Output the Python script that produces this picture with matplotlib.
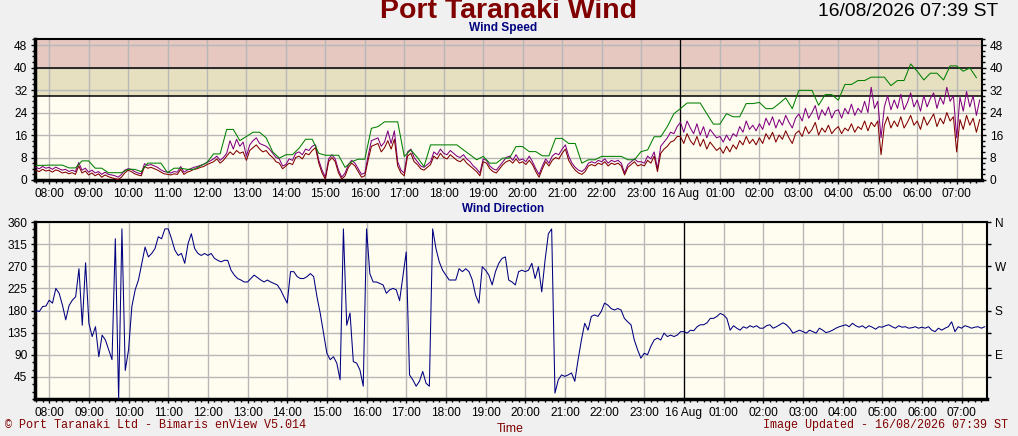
import numpy as np
import matplotlib
matplotlib.use("Agg")
import matplotlib.pyplot as plt
from matplotlib.ticker import MultipleLocator, FuncFormatter

plt.rcParams["font.family"] = ["Liberation Sans", "DejaVu Sans"]

# samples start 07:40 on 15 Aug, speeds/direction every 5 min, max every 10 min
start_hour = 7 + 40 / 60

wind_mean = [
    3.5, 3.0, 3.8, 3.2,
    3.5, 2.8, 3.6, 3.2, 2.5, 2.8, 2.2, 2.6, 2.0, 5.0, 2.5, 3.2,
    1.8, 2.5, 1.5, 2.2, 1.0, 1.8, 1.2, 0.8, 0.5, 0.2, 1.0, 2.5,
    3.5, 3.0, 2.2, 1.8, 1.5, 4.8, 4.2, 4.5, 4.0, 3.5, 2.8, 2.2,
    2.0, 1.8, 2.2, 2.0, 3.8, 2.0, 2.8, 3.2, 3.8, 4.0, 4.5, 4.8,
    5.5, 6.0, 6.5, 7.5, 6.0, 7.0, 8.5, 10.0, 9.0, 10.5, 9.5, 10.0,
    7.0, 10.5, 11.5, 12.5, 11.0, 10.0, 10.5, 9.0, 8.0, 6.5, 6.0, 4.0,
    5.0, 6.0, 5.5, 8.0, 8.5, 7.5, 9.5, 9.0, 10.5, 11.5, 6.0, 2.5,
    0.3, 6.5, 8.0, 6.5, 2.5, 0.3, 1.5, 4.5, 6.0, 5.0, 3.0, 1.0,
    1.5, 7.0, 12.0, 12.5, 13.0, 10.0, 11.5, 14.0, 11.0, 14.5, 5.0, 2.5,
    1.5, 8.5, 9.5, 6.5, 5.5, 4.0, 3.5, 4.5, 5.5, 8.5, 7.5, 9.5,
    8.0, 7.5, 9.0, 8.0, 7.0, 6.5, 7.5, 6.0, 5.0, 4.0, 3.0, 1.5,
    6.5, 6.0, 4.0, 3.0, 2.5, 4.0, 5.5, 6.5, 7.0, 6.0, 7.5, 6.0,
    6.5, 5.5, 7.0, 5.5, 3.0, 1.0, 4.0, 6.5, 5.0, 7.0, 8.0, 7.5,
    9.5, 11.0, 7.0, 5.0, 3.5, 2.5, 2.0, 3.0, 5.0, 5.5, 5.0, 6.0,
    5.5, 6.5, 5.0, 6.0, 5.5, 6.0, 5.0, 1.8, 4.5, 5.5, 6.5, 5.0,
    5.5, 5.0, 7.0, 6.0, 8.5, 3.0, 9.5, 11.0, 12.0, 13.5, 14.0, 15.5,
    15.5, 13.0, 16.5, 14.0, 12.5, 15.5, 12.0, 14.5, 11.0, 13.5, 12.0, 10.5,
    11.5, 9.5, 12.0, 10.0, 12.5, 11.0, 14.0, 12.5, 15.5, 13.0, 14.5, 12.5,
    15.0, 13.0, 16.5, 14.5, 17.0, 13.5, 16.0, 14.5, 17.5, 15.0, 13.0, 16.5,
    17.5, 15.5, 19.0, 16.5, 18.0, 20.5, 16.0, 18.5, 17.0, 19.5, 16.5, 18.0,
    19.0, 16.5, 18.5, 17.5, 20.0, 17.0, 19.0, 18.0, 21.0, 17.5, 20.5, 19.0,
    21.0, 9.0, 19.5, 22.5, 18.5, 21.0, 19.0, 22.5, 18.5, 20.5, 23.0, 19.5,
    21.0, 18.0, 22.5, 19.5, 21.5, 23.5, 19.0, 22.0, 20.0, 24.0, 21.0, 22.5,
    10.0, 21.5, 18.0, 23.0, 19.5, 22.0, 17.0, 21.5,
]

wind_gust = [
    4.5, 4.0, 4.8, 4.2,
    4.5, 3.8, 4.6, 4.0, 3.5, 3.8, 3.0, 3.5, 3.0, 6.2, 3.5, 4.2,
    2.8, 3.5, 2.5, 3.0, 2.0, 2.8, 2.0, 1.8, 1.5, 1.0, 2.0, 3.5,
    4.0, 3.8, 3.0, 2.5, 2.2, 5.8, 5.2, 5.5, 5.0, 4.5, 3.6, 3.0,
    2.8, 2.5, 3.0, 2.8, 4.8, 2.8, 3.5, 4.0, 4.5, 4.8, 5.2, 5.6,
    6.3, 6.8, 7.5, 8.5, 7.0, 8.0, 9.5, 14.0, 11.0, 14.5, 12.0, 13.5,
    8.5, 12.5, 14.0, 15.0, 13.0, 12.5, 12.0, 11.0, 9.5, 8.0, 7.5, 5.0,
    5.5, 7.5, 7.0, 9.5, 10.0, 9.0, 11.0, 10.5, 12.0, 12.5, 7.0, 3.5,
    1.0, 7.5, 9.0, 7.5, 3.5, 1.0, 2.5, 5.5, 7.0, 6.0, 4.0, 2.0,
    2.5, 8.5, 14.0, 14.5, 15.0, 12.0, 13.5, 17.5, 13.0, 17.5, 6.5, 3.5,
    2.5, 10.0, 11.0, 8.0, 6.5, 5.0, 4.5, 5.5, 6.5, 10.0, 9.0, 11.0,
    9.5, 9.0, 10.5, 9.5, 8.5, 8.0, 9.0, 7.5, 6.5, 5.0, 4.0, 2.5,
    7.5, 7.0, 5.0, 4.0, 3.5, 5.0, 6.5, 8.0, 8.5, 7.0, 9.0, 7.0,
    7.5, 6.5, 8.5, 6.5, 4.0, 2.0, 5.0, 7.5, 6.0, 8.5, 9.5, 9.0,
    11.0, 12.5, 8.5, 6.0, 4.5, 3.5, 3.0, 4.0, 6.0, 6.5, 6.0, 7.0,
    6.5, 7.5, 6.0, 7.0, 6.5, 7.0, 6.0, 2.5, 5.5, 6.5, 7.5, 6.5,
    6.5, 6.0, 8.5, 7.5, 10.0, 4.0, 12.0, 13.5, 15.0, 17.0, 16.5, 19.0,
    20.5, 17.0, 21.0, 18.5, 16.5, 20.0, 16.0, 19.0, 15.0, 18.0, 16.5, 15.0,
    15.5, 13.5, 16.0, 14.0, 16.5, 15.5, 19.0, 17.0, 21.0, 18.0, 19.5, 17.5,
    20.0, 18.0, 22.0, 19.5, 22.5, 18.5, 21.5, 19.5, 23.0, 20.5, 18.5, 22.0,
    23.5, 21.0, 25.5, 22.0, 24.0, 26.5, 21.5, 25.0, 23.0, 26.0, 22.0, 24.5,
    25.0, 22.0, 25.5, 23.5, 27.0, 23.0, 25.5, 24.0, 28.0, 24.0, 33.0, 25.5,
    28.0, 15.0, 26.0, 30.0, 25.0, 28.5, 25.5, 30.5, 25.0, 27.5, 31.0, 26.0,
    28.5, 24.5, 30.0, 26.0, 29.0, 31.0, 25.5, 29.5, 27.0, 33.0, 28.0, 30.0,
    15.0, 29.5, 24.5, 31.5, 26.0, 30.0, 23.0, 28.5,
]

wind_max = [
    5.2, 5.2,
    5.3, 5.3, 5.3, 4.3, 4.3, 6.8,
    6.8, 4.2, 4.2, 2.6, 2.6, 2.6,
    3.8, 3.8, 3.0, 6.0, 6.0, 6.0,
    2.6, 4.2, 4.2, 3.8, 3.8, 5.0,
    6.2, 9.3, 9.3, 18.0, 18.0, 14.0,
    15.5, 17.0, 17.0, 15.0, 10.0, 7.8,
    9.0, 9.0, 11.3, 14.5, 14.5, 9.5,
    8.8, 8.8, 8.8, 4.5, 6.5, 7.4,
    7.4, 18.4, 19.0, 20.7, 20.7, 20.7,
    8.4, 10.7, 8.0, 4.8, 12.5, 12.5,
    12.5, 12.5, 12.5, 10.7, 9.0, 7.2,
    8.4, 6.0, 6.0, 7.8, 7.8, 11.9,
    11.9, 10.1, 10.1, 8.6, 8.6, 14.8,
    14.8, 13.0, 13.0, 6.0, 7.2, 7.2,
    8.4, 8.4, 8.4, 8.4, 7.2, 7.2,
    10.1, 10.7, 15.4, 15.4, 19.0, 23.6,
    25.4, 27.4, 27.4, 27.4, 23.6, 19.9,
    19.9, 23.6, 22.5, 22.5, 27.2, 27.2,
    27.6, 25.4, 25.4, 27.2, 29.2, 25.4,
    31.9, 31.9, 31.9, 26.6, 30.4, 30.4,
    28.4, 34.0, 34.0, 35.4, 35.4, 36.6,
    36.6, 36.6, 33.6, 35.4, 35.4, 41.3,
    38.7, 35.6, 38.0, 38.0, 35.6, 40.6,
    40.6, 38.7, 39.9, 36.4,
]

wind_dir = [
    180, 178, 188, 189,
    201, 195, 225, 215, 191, 161, 190, 201, 208, 265, 150, 277,
    154, 127, 147, 86, 130, 120, 100, 80, 326, 0, 346, 58,
    100, 188, 222, 242, 276, 309, 289, 296, 306, 330, 326, 346,
    346, 326, 303, 292, 296, 276, 316, 336, 306, 296, 292, 296,
    292, 296, 286, 282, 279, 282, 282, 262, 252, 245, 242, 238,
    238, 245, 252, 247, 242, 238, 242, 238, 235, 232, 222, 208,
    195, 259, 259, 249, 245, 245, 249, 255, 249, 208, 174, 134,
    93, 80, 86, 73, 39, 346, 150, 175, 76, 73, 59, 26,
    346, 255, 238, 238, 235, 232, 215, 222, 225, 222, 200, 250,
    299, 49, 39, 26, 36, 56, 32, 26, 346, 306, 279, 262,
    252, 242, 242, 242, 265, 259, 265, 259, 242, 211, 195, 269,
    262, 252, 232, 259, 276, 286, 289, 242, 238, 232, 259, 262,
    259, 262, 276, 245, 269, 218, 282, 336, 346, 12, 39, 49,
    46, 49, 53, 36, 80, 120, 154, 140, 168, 171, 168, 178,
    195, 191, 184, 181, 184, 181, 164, 157, 151, 120, 100, 83,
    93, 90, 107, 120, 124, 120, 134, 127, 130, 127, 130, 137,
    137, 134, 140, 139, 147, 151, 151, 155, 164, 164, 168, 174,
    171, 164, 140, 149, 144, 140, 147, 144, 149, 146, 149, 144,
    144, 149, 151, 144, 147, 151, 155, 151, 144, 134, 137, 140,
    137, 134, 140, 137, 134, 144, 140, 135, 137, 140, 144, 147,
    149, 151, 147, 154, 149, 146, 149, 144, 149, 146, 142, 147,
    146, 149, 151, 147, 144, 149, 146, 147, 144, 145, 147, 144,
    146, 144, 147, 140, 137, 144, 140, 144, 147, 157, 137, 147,
    144, 149, 147, 144, 146, 147, 144, 147,
]

speed_ticks = [0, 8, 16, 24, 32, 40, 48]
dir_ticks = [45, 90, 135, 180, 225, 270, 315, 360]
compass_labels = ["", "E", "", "S", "", "W", "", "N"]

t5 = start_hour + np.arange(len(wind_mean)) * 5 / 60
t10 = start_hour + np.arange(len(wind_max)) * 10 / 60
x_start = 7 + 38.5 / 60
x_end = x_start + 24


def hour_label(x, pos):
    h = int(round(x))
    if h == 24:
        return "16 Aug"
    return f"{h % 24:02d}:00"


def style_axis(ax):
    ax.set_facecolor("#FFFCF0")
    ax.set_xlim(x_start, x_end)
    ax.xaxis.set_major_locator(MultipleLocator(1))
    ax.xaxis.set_minor_locator(MultipleLocator(1 / 6))
    ax.xaxis.set_major_formatter(FuncFormatter(hour_label))
    ax.grid(True, which="major", color="#B8B8B8", lw=1.0)
    ax.set_axisbelow(True)
    ax.tick_params(which="both", direction="out", length=3, width=1,
                   labelsize=8.6, pad=2.5)
    ax.tick_params(which="minor", length=2)
    ax.spines["left"].set_linewidth(2.5)
    ax.spines["bottom"].set_linewidth(2.5)
    ax.spines["top"].set_linewidth(1.5)
    ax.spines["right"].set_linewidth(1.5)
    ax.axvline(24, color="black", lw=0.9, zorder=2)


fig = plt.figure(figsize=(10.18, 4.36), dpi=100, facecolor="#F0F0F0")
ax1 = fig.add_axes([35 / 1018, 1 - 180 / 436, 947 / 1018, 140.5 / 436])
ax2 = fig.add_axes([35 / 1018, 1 - 399 / 436, 952 / 1018, 177 / 436])

# wind speed
style_axis(ax1)
ax1.set_ylim(0, 50)
ax1.set_yticks(speed_ticks)
ax1.yaxis.set_minor_locator(MultipleLocator(2))
ax1.tick_params(axis="y", which="both", right=True, labelright=True)
ax1.axhspan(40, 50, color="#E6C8C0", zorder=0.2, lw=0)
ax1.axhspan(30, 40, color="#E6E0C0", zorder=0.2, lw=0)
ax1.axhline(30, color="black", lw=1.1, zorder=2)
ax1.axhline(40, color="black", lw=1.1, zorder=2)
ax1.plot(t5, wind_gust, color="#800080", lw=0.75, zorder=3)
ax1.plot(t5, wind_mean, color="#800000", lw=0.75, zorder=4)
ax1.plot(t10, wind_max, color="#008000", lw=0.75, zorder=5)

# wind direction
style_axis(ax2)
ax2.set_ylim(0, 360)
ax2.set_yticks(dir_ticks)
ax2.yaxis.set_minor_locator(MultipleLocator(15))
ax2.plot(t5, wind_dir, color="#000080", lw=0.75, zorder=3)
ax2r = ax2.twinx()
ax2r.set_ylim(0, 360)
ax2r.set_yticks(dir_ticks)
ax2r.set_yticklabels(compass_labels)
ax2r.tick_params(direction="out", length=3, width=1, labelsize=8.6, pad=2.5)
for side in ["left", "right", "top", "bottom"]:
    ax2r.spines[side].set_visible(False)

fig.text(508 / 1018, 1 - 18 / 436, "Port Taranaki Wind", ha="center",
         va="baseline", fontsize=20.5, fontweight="bold", color="#800000")
fig.text(998 / 1018, 1 - 16 / 436, "16/08/2026 07:39 ST", ha="right",
         va="baseline", fontsize=13.9, color="black")
fig.text(503 / 1018, 1 - 31 / 436, "Wind Speed", ha="center", va="baseline",
         fontsize=8.6, fontweight="bold", color="#000080")
fig.text(503 / 1018, 1 - 212 / 436, "Wind Direction", ha="center",
         va="baseline", fontsize=8.4, fontweight="bold", color="#000080")
fig.text(510 / 1018, 1 - 432 / 436, "Time", ha="center", va="baseline",
         fontsize=8.8, color="#800000")
fig.text(5 / 1018, 1 - 428 / 436, "© Port Taranaki Ltd - Bimaris enView V5.014",
         ha="left", va="baseline", fontsize=8.5, color="#800000",
         family="Liberation Mono")
fig.text(1008 / 1018, 1 - 428 / 436, "Image Updated - 16/08/2026 07:39 ST",
         ha="right", va="baseline", fontsize=8.5, color="#800000",
         family="Liberation Mono")

fig.savefig("out.png", dpi=100, facecolor=fig.get_facecolor())
